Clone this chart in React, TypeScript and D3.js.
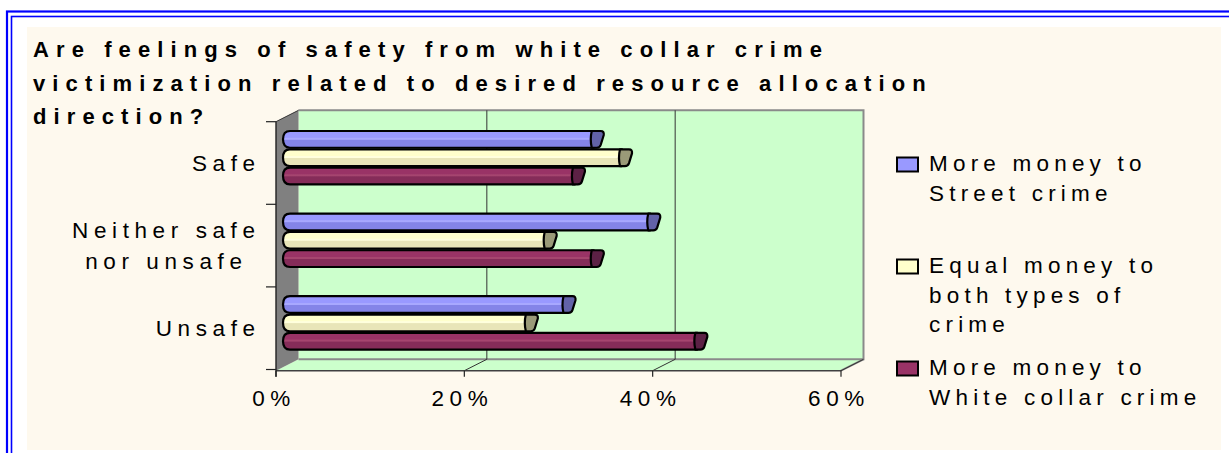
import React, { useEffect, useRef } from "react";
import * as d3 from "d3";

// ---------- data ----------
const categories = ["Safe", "Neither safe nor unsafe", "Unsafe"];
const categoryLines = [["Safe"], ["Neither safe", "nor unsafe"], ["Unsafe"]];
const seriesNames = [
  "More money to Street crime",
  "Equal money to both types of crime",
  "More money to White collar crime",
];
const legendLines = [
  ["More money to", "Street crime"],
  ["Equal money to", "both types of", "crime"],
  ["More money to", "White collar crime"],
];
const streetCrime = [33, 39, 30];
const equalMoney = [36, 28, 26];
const whiteCollar = [31, 33, 44];
const xTicks = [0, 20, 40, 60];
const xTickLabels = ["0%", "20%", "40%", "60%"];
const titleLines = [
  "Are feelings of safety from white collar crime",
  "victimization related to desired resource allocation",
  "direction?",
];

const seriesValues = [streetCrime, equalMoney, whiteCollar];
const seriesLight = ["#9999FF", "#FFFFCC", "#993366"];
const seriesDark = ["#8484E8", "#E8E5B8", "#852C59"];
const seriesHi = ["#A8A8FF", "#FFFFDD", "#A5456F"];
const seriesCap = ["#6262A8", "#9A9A78", "#5C2145"];

const W = 1229;
const H = 453;
const FONT = "'Liberation Sans', Arial, sans-serif";

export default function App() {
  const ref = useRef<SVGSVGElement | null>(null);

  useEffect(() => {
    const svg = d3.select(ref.current);
    svg.selectAll("*").remove();

    // geometry
    const frontLeft = 276;
    const frontRight = 841;
    const frontTop = 121.7;
    const frontBottom = 370.7;
    const DX = 22.5;
    const DY = -11.4;

    const x = d3.scaleLinear().domain([0, 60]).range([frontLeft, frontRight]);
    const y = d3.scaleBand<string>().domain(categories).range([frontTop, frontBottom - 1.2]);
    const inner = d3.scaleBand<number>().domain([0, 1, 2]).range([0, 55]);
    const barDX = 7;
    const barDY = -5.5;

    const defs = svg.append("defs");
    seriesLight.forEach((c, i) => {
      const g = defs
        .append("linearGradient")
        .attr("id", `bg${i}`)
        .attr("x1", 0)
        .attr("y1", 0)
        .attr("x2", 0)
        .attr("y2", 1);
      g.append("stop").attr("offset", "0%").attr("stop-color", c);
      g.append("stop").attr("offset", "38%").attr("stop-color", c);
      g.append("stop").attr("offset", "42%").attr("stop-color", seriesHi[i]);
      g.append("stop").attr("offset", "50%").attr("stop-color", seriesHi[i]);
      g.append("stop").attr("offset", "54%").attr("stop-color", seriesDark[i]);
      g.append("stop").attr("offset", "100%").attr("stop-color", seriesDark[i]);
    });

    // background
    svg.append("rect").attr("x", 0).attr("y", 0).attr("width", W).attr("height", H).attr("fill", "#FFFFFF");
    svg.append("rect").attr("x", 27).attr("y", 27).attr("width", 1194).attr("height", 423).attr("fill", "#FEF9EE");

    // blue double frame
    svg.append("rect").attr("x", 7).attr("y", 11.5).attr("width", 1300).attr("height", 500)
      .attr("fill", "none").attr("stroke", "#0000FF").attr("stroke-width", 2.2);
    svg.append("rect").attr("x", 11.5).attr("y", 16.5).attr("width", 1300).attr("height", 500)
      .attr("fill", "none").attr("stroke", "#0000FF").attr("stroke-width", 1.6);

    // back wall
    const backLeft = frontLeft + DX;
    const backRight = frontRight + DX;
    const backTop = frontTop + DY;
    const backBottom = frontBottom + DY;
    svg.append("rect").attr("x", backLeft).attr("y", backTop)
      .attr("width", backRight - backLeft).attr("height", backBottom - backTop)
      .attr("fill", "#CCFFCC");
    // floor
    svg.append("polygon")
      .attr("points", [
        [frontLeft, frontBottom], [frontRight, frontBottom],
        [backRight, backBottom], [backLeft, backBottom],
      ].map((p) => p.join(",")).join(" "))
      .attr("fill", "#CCFFCC");
    // left wall
    svg.append("polygon")
      .attr("points", [
        [frontLeft, frontTop], [backLeft, backTop],
        [backLeft, backBottom], [frontLeft, frontBottom],
      ].map((p) => p.join(",")).join(" "))
      .attr("fill", "#808080");

    // gray outline of back wall (top, right, bottom) and floor right edge
    svg.append("path")
      .attr("d", `M${backLeft},${backTop} L${backRight},${backTop} L${backRight},${backBottom} L${backLeft},${backBottom}`)
      .attr("fill", "none").attr("stroke", "#8A8A8A").attr("stroke-width", 2);
    svg.append("path")
      .attr("d", `M${backRight},${backBottom} L${frontRight},${frontBottom}`)
      .attr("fill", "none").attr("stroke", "#8A8A8A").attr("stroke-width", 2);

    // gridlines on back wall and floor
    xTicks.filter((t) => t > 0 && t < 60).forEach((t) => {
      svg.append("line").attr("x1", x(t) + DX).attr("x2", x(t) + DX)
        .attr("y1", backTop).attr("y2", backBottom)
        .attr("stroke", "#333333").attr("stroke-width", 1);
    });
    xTicks.filter((t) => t > 0).forEach((t) => {
      svg.append("line").attr("x1", x(t)).attr("x2", x(t) + DX)
        .attr("y1", frontBottom).attr("y2", backBottom)
        .attr("stroke", "#333333").attr("stroke-width", 1);
    });

    // floor front edge
    svg.append("line").attr("x1", frontLeft).attr("x2", frontRight)
      .attr("y1", frontBottom).attr("y2", frontBottom)
      .attr("stroke", "#404040").attr("stroke-width", 1.6);
    // x ticks
    xTicks.forEach((t) => {
      svg.append("line").attr("x1", x(t)).attr("x2", x(t))
        .attr("y1", frontBottom).attr("y2", frontBottom + 6)
        .attr("stroke", "#222222").attr("stroke-width", 1.2);
    });
    // y axis line
    svg.append("line").attr("x1", frontLeft).attr("x2", frontLeft)
      .attr("y1", frontTop).attr("y2", frontBottom + 6)
      .attr("stroke", "#222222").attr("stroke-width", 1.4);
    svg.append("line").attr("x1", frontLeft).attr("x2", backLeft)
      .attr("y1", frontTop).attr("y2", backTop)
      .attr("stroke", "#333333").attr("stroke-width", 1);
    // y ticks at band boundaries
    const bounds = categories.map((c) => y(c) as number).concat([frontBottom - 1.2]);
    bounds.forEach((b) => {
      svg.append("line").attr("x1", frontLeft - 10).attr("x2", frontLeft)
        .attr("y1", b).attr("y2", b)
        .attr("stroke", "#222222").attr("stroke-width", 1.2);
    });

    // bars
    const zeroX = x(0) + barDX;
    const scaleW = (v: number) => x(v) - x(0);
    categories.forEach((cat, ci) => {
      const bandTop = (y(cat) as number) + (y.bandwidth() - 55) / 2 + barDY;
      seriesValues.forEach((vals, si) => {
        const top = bandTop + (inner(si) as number) + 1;
        const h = inner.bandwidth() - 1.6;
        const bottom = top + h;
        const xEnd = zeroX + scaleW(vals[ci]);
        const r = 7;
        const body = `M${xEnd},${top} L${zeroX + r},${top} Q${zeroX},${top} ${zeroX},${top + h / 2} Q${zeroX},${bottom} ${zeroX + r},${bottom} L${xEnd},${bottom} Z`;
        svg.append("path").attr("d", body)
          .attr("fill", `url(#bg${si})`)
          .attr("stroke", "#000000").attr("stroke-width", 2.2).attr("stroke-linejoin", "round");
        const w = 10;
        const cap = `M${xEnd - 2},${top} L${xEnd + w - 3},${top} Q${xEnd + w + 0.5},${top} ${xEnd + w},${top + 4} L${xEnd + w - 3},${bottom - 3} Q${xEnd + w - 4},${bottom} ${xEnd + w - 7},${bottom} L${xEnd - 2},${bottom} Q${xEnd - 4},${top + h / 2} ${xEnd - 2},${top} Z`;
        svg.append("path").attr("d", cap)
          .attr("fill", seriesCap[si])
          .attr("stroke", "#000000").attr("stroke-width", 2.2).attr("stroke-linejoin", "round");
      });
    });

    // category labels
    const LS = 5.6;
    const labelRight = 255 + LS;
    categories.forEach((cat, ci) => {
      const lines = categoryLines[ci];
      const center = (y(cat) as number) + y.bandwidth() / 2;
      const lh = 31.5;
      const g = svg.append("g");
      const texts = lines.map((ln, li) =>
        g.append("text")
          .attr("y", center + 8 + (li - (lines.length - 1) / 2) * lh)
          .attr("font-family", FONT).attr("font-size", 22.5)
          .attr("letter-spacing", LS).attr("fill", "#000")
          .attr("text-anchor", "middle")
          .text(ln)
      );
      const maxW = d3.max(texts, (t) => (t.node() as SVGTextElement).getComputedTextLength()) || 0;
      texts.forEach((t) => t.attr("x", labelRight - maxW / 2));
    });

    // x tick labels
    xTicks.forEach((t, i) => {
      svg.append("text")
        .attr("x", x(t) - 2).attr("y", 406)
        .attr("font-family", FONT).attr("font-size", 22.5)
        .attr("letter-spacing", LS).attr("text-anchor", "middle").attr("fill", "#000")
        .text(xTickLabels[i]);
    });

    // title
    titleLines.forEach((ln, i) => {
      svg.append("text")
        .attr("x", 33).attr("y", 57 + i * 33.7)
        .attr("font-family", FONT).attr("font-size", 22).attr("font-weight", "bold")
        .attr("letter-spacing", 7.1).attr("fill", "#000")
        .text(ln);
    });

    // legend
    const legendBase = [171, 273, 375];
    seriesNames.forEach((name, si) => {
      const b = legendBase[si];
      svg.append("rect")
        .attr("x", 897).attr("y", b - 13.5).attr("width", 21).attr("height", 14)
        .attr("fill", seriesLight[si]).attr("stroke", "#000").attr("stroke-width", 2);
      legendLines[si].forEach((ln, li) => {
        svg.append("text")
          .attr("x", 929).attr("y", b + li * 29.5)
          .attr("font-family", FONT).attr("font-size", 22.5)
          .attr("letter-spacing", 5.2).attr("fill", "#000")
          .text(ln);
      });
    });
  }, []);

  return (
    <svg
      ref={ref}
      width={W}
      height={H}
      style={{ position: "absolute", left: 0, top: 0, display: "block" }}
    />
  );
}
